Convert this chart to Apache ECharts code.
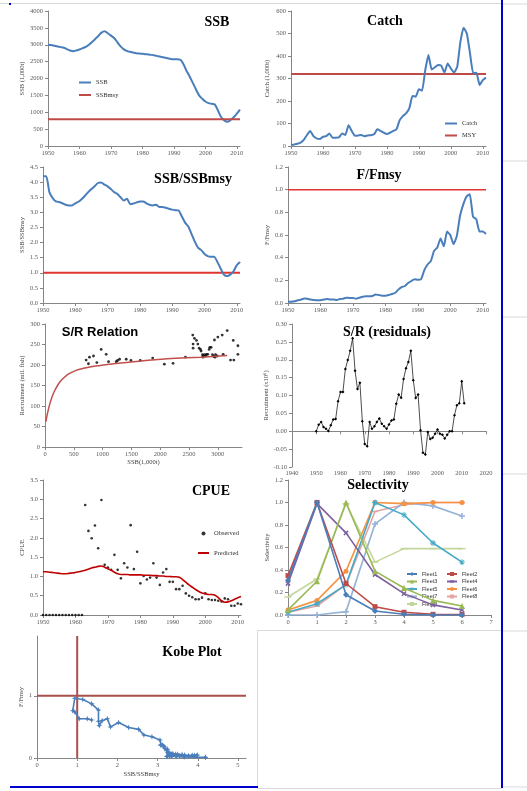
<!DOCTYPE html>
<html><head><meta charset="utf-8">
<script src="https://cdn.jsdelivr.net/npm/echarts@6/dist/echarts.min.js"></script>
<style>html,body{margin:0;padding:0;background:#fff;}#c{width:527px;height:791px;}</style>
</head><body><div id="c"></div>
<script>
const years = [1950,1951,1952,1953,1954,1955,1956,1957,1958,1959,1960,1961,1962,1963,1964,1965,1966,1967,1968,1969,1970,1971,1972,1973,1974,1975,1976,1977,1978,1979,1980,1981,1982,1983,1984,1985,1986,1987,1988,1989,1990,1991,1992,1993,1994,1995,1996,1997,1998,1999,2000,2001,2002,2003,2004,2005,2006,2007,2008,2009,2010,2011];
const ssb = [3000,2990,2970,2950,2930,2910,2870,2830,2810,2830,2860,2900,2940,3000,3080,3170,3260,3360,3400,3340,3270,3200,3080,2960,2870,2820,2790,2770,2750,2740,2730,2720,2710,2700,2680,2660,2640,2620,2600,2580,2570,2570,2560,2430,2230,2060,1870,1680,1500,1400,1320,1270,1250,1230,1050,860,760,720,770,850,960,1080];
const ssbMsy = 790;
const catchVals = [5,7,10,15,27,49,67,44,34,31,41,44,56,37,37,38,56,49,92,67,46,47,49,43,47,48,52,74,67,59,53,59,67,74,115,133,145,167,222,219,252,246,338,404,340,350,360,357,326,367,345,326,352,464,526,500,412,323,326,271,293,304];
const msy = 320;
const ssbRatio = [4.19,4.19,3.66,3.47,3.36,3.34,3.30,3.25,3.23,3.23,3.30,3.35,3.44,3.55,3.67,3.77,3.86,3.97,3.99,3.92,3.86,3.77,3.67,3.61,3.50,3.39,3.45,3.27,3.29,3.33,3.36,3.36,3.30,3.25,3.23,3.25,3.18,3.18,3.15,3.12,3.09,3.07,3.06,2.86,2.66,2.53,2.28,2.03,1.83,1.75,1.62,1.55,1.53,1.53,1.36,1.14,0.94,0.89,0.94,1.05,1.25,1.36];
const fRatio = [0.010,0.012,0.015,0.024,0.030,0.040,0.038,0.030,0.027,0.025,0.025,0.030,0.035,0.030,0.030,0.027,0.035,0.038,0.047,0.044,0.044,0.038,0.047,0.056,0.059,0.059,0.062,0.076,0.070,0.065,0.065,0.070,0.080,0.088,0.118,0.140,0.150,0.176,0.194,0.210,0.205,0.210,0.290,0.340,0.370,0.460,0.490,0.570,0.500,0.630,0.600,0.520,0.590,0.770,0.870,0.940,0.960,0.760,0.740,0.630,0.630,0.610];
const refLevel = 1.0;
const srObserved = [[714,212],[754,203],[772,219],[842,222],[900,206],[975,238],[1062,226],[1103,208],[1236,208],[1259,211],[1294,214],[1410,214],[1492,211],[1654,211],[1869,217],[2072,202],[2223,204],[2438,219],[2565,273],[2571,251],[2571,241],[2594,265],[2629,260],[2653,251],[2676,241],[2699,238],[2710,234],[2734,225],[2745,221],[2768,225],[2803,226],[2826,226],[2850,238],[2861,243],[2884,243],[2908,225],[2931,221],[2942,261],[2960,225],[2989,222],[3001,268],[3076,273],[3093,226],[3163,284],[3221,212],[3268,260],[3279,212],[3349,247],[3349,226],[2740,219],[2790,222],[2950,219]];
const srCurve = [[17,62],[40,80],[87,107],[130,125],[174,139],[230,153],[290,164],[360,173],[435,180],[540,187],[667,192],[800,196],[958,199],[1200,203],[1538,208],[2118,215],[2699,219],[3163,223]];
const srResid = [0.000,0.018,0.026,0.012,0.007,0.001,0.017,0.033,0.034,0.084,0.110,0.110,0.174,0.199,0.225,0.260,0.169,0.118,0.136,0.028,-0.036,-0.042,0.026,0.007,0.014,0.026,0.036,0.021,0.014,0.007,0.019,0.030,0.033,0.077,0.103,0.094,0.146,0.176,0.194,0.225,0.143,0.093,0.103,0.003,-0.060,-0.065,-0.002,-0.022,-0.018,-0.007,0.005,-0.007,-0.010,-0.020,-0.010,0.000,0.000,0.045,0.073,0.078,0.140,0.078];
const cpueObs = [0,0,0,0,0,0,0,0,0,0,0,0,0,2.85,2.18,1.99,2.32,1.73,2.98,1.30,1.23,1.17,1.56,1.17,0.95,1.34,1.23,2.33,1.19,1.64,0.82,1.01,0.92,0.97,1.34,0.97,0.78,1.10,1.19,0.86,0.86,0.67,0.67,0.76,0.56,0.50,0.46,0.41,0.41,0.45,0.56,0.41,0.39,0.39,0.37,0.35,0.43,0.41,0.24,0.24,0.30,0.28];
const cpuePred = [1.12,1.12,1.11,1.10,1.09,1.08,1.07,1.07,1.08,1.09,1.10,1.12,1.14,1.16,1.19,1.22,1.24,1.26,1.27,1.24,1.20,1.16,1.11,1.07,1.05,1.05,1.05,1.04,1.04,1.04,1.04,1.03,1.03,1.03,1.02,1.02,1.01,1.01,1.00,1.00,0.99,0.99,0.98,0.92,0.85,0.78,0.72,0.66,0.61,0.57,0.55,0.53,0.53,0.51,0.45,0.37,0.33,0.34,0.37,0.41,0.45,0.48];
const ages = [0,1,2,3,4,5,6];
const fleetNames = ['Fleet1','Fleet2','Fleet3','Fleet4','Fleet5','Fleet6','Fleet7','Fleet8','Fleet9'];
const fleet1 = [0.31,1.00,0.18,0.035,0.006,0.0,0.0];
const fleet2 = [0.35,1.00,0.28,0.074,0.024,0.006,0.005];
const fleet3 = [0.045,0.30,1.00,0.39,0.24,0.13,0.08];
const fleet4 = [0.28,0.99,0.73,0.36,0.19,0.09,0.045];
const fleet5 = [0.024,0.10,0.27,1.00,0.89,0.64,0.47];
const fleet6 = [0.045,0.13,0.39,1.00,0.99,1.00,1.00];
const fleet7 = [0.0,0.0,0.03,0.81,1.00,0.97,0.88];
const fleet8 = [0.024,0.08,0.27,0.92,0.98,1.00,1.00];
const fleet9 = [0.16,0.32,0.99,0.47,0.59,0.59,0.59];

const fleets = [fleet1,fleet2,fleet3,fleet4,fleet5,fleet6,fleet7,fleet8,fleet9];
const BLUE = '#4A7EBB', RED = '#BE4B48', AX = '#868686', LBL = '#595959';
const SERIF = 'Liberation Serif', SANS = 'Liberation Sans';

const grids = [
  {left:48, top:11, width:192, height:135},
  {left:291, top:11, width:195, height:135},
  {left:43, top:167, width:197, height:136},
  {left:288, top:167, width:198, height:136},
  {left:45, top:324, width:197, height:123},
  {left:292, top:324, width:194, height:143},
  {left:43, top:480, width:198, height:135},
  {left:288, top:480, width:203, height:135},
  {left:37, top:636, width:209, height:122}
].map(g => Object.assign({outerBoundsMode:'none', containLabel:false}, g));

const plain = v => String(v);
const fix1 = v => v.toFixed(1);
const fix2 = v => v.toFixed(2);

function axis(gi, min, max, interval, dir, extra) {
  const a = {
    type:'value', gridIndex:gi, min:min, max:max, interval:interval, scale:true,
    axisLine:{show:true, onZero:false, lineStyle:{color:AX, width:1}},
    axisTick:{show:true, length:3, inside:false, lineStyle:{color:AX}},
    axisLabel:{fontFamily:SERIF, fontSize:6.5, color:LBL, margin:dir==='x'?4:5, hideOverlap:false, formatter:plain},
    splitLine:{show:false},
    nameTextStyle:{fontFamily:SERIF, fontSize:6.5, color:'#404040'}
  };
  return Object.assign(a, extra || {});
}
function lab(extra){ return Object.assign({fontFamily:SERIF, fontSize:6.5, color:LBL, margin:4, hideOverlap:false, formatter:plain}, extra); }
function yname(name, gap){ return {name:name, nameLocation:'middle', nameGap:gap, nameRotate:90}; }

const xAxes = [
  axis(0,1950,2011,10,'x',{axisLabel:lab({showMaxLabel:false})}),
  axis(1,1950,2011,10,'x',{axisLabel:lab({showMaxLabel:false})}),
  axis(2,1950,2011,10,'x',{axisLabel:lab({showMaxLabel:false})}),
  axis(3,1950,2011,10,'x',{axisLabel:lab({showMaxLabel:false})}),
  axis(4,0,3420,500,'x',{axisLabel:lab({showMaxLabel:false}), name:'SSB(1,000t)', nameLocation:'middle', nameGap:11}),
  axis(5,1940,2020,10,'x',{axisLine:{show:true,onZero:true,lineStyle:{color:AX}}, axisLabel:lab({margin:3})}),
  axis(6,1950,2011,10,'x',{axisLabel:lab({showMaxLabel:false})}),
  axis(7,0,7,1,'x',{}),
  axis(8,0,5.2,1,'x',{axisLabel:lab({showMaxLabel:false}), name:'SSB/SSBmsy', nameLocation:'middle', nameGap:13})
];
const yAxes = [
  axis(0,0,4000,500,'y',yname('SSB (1,000t)',21)),
  axis(1,0,600,100,'y',yname('Catch (1,000t)',20)),
  axis(2,0,4.5,0.5,'y',Object.assign(yname('SSB/SSBmsy',16),{axisLabel:lab({formatter:fix1, margin:5})})),
  axis(3,0,1.2,0.2,'y',Object.assign(yname('F/Fmsy',16),{axisLabel:lab({formatter:fix1, margin:5})})),
  axis(4,0,300,50,'y',yname('Recruitment (mil. fish)',19)),
  axis(5,-0.1,0.3,0.05,'y',Object.assign(yname('Recruitment (x10⁶)',21),{axisLabel:lab({formatter:fix2, margin:5})})),
  axis(6,0,3.5,0.5,'y',Object.assign(yname('CPUE',16),{axisLabel:lab({formatter:fix1, margin:5})})),
  axis(7,0,1.2,0.2,'y',Object.assign(yname('Selectivity',16),{axisLabel:lab({formatter:fix1, margin:5})})),
  axis(8,0,1.96,1,'y',Object.assign(yname('F/Fmsy',11),{axisLabel:lab({showMaxLabel:false, margin:5})}))
];

const zipY = arr => years.map((y,i)=>[y, arr[i]]);
const hline = (v, x0, x1) => [[x0, v],[x1, v]];

const plusPath = 'path://M-1,-4H1V-1H4V1H1V4H-1V1H-4V-1H-1Z';
const astPath = 'path://M-0.6,-4H0.6V4H-0.6Z M-4,-0.6H4V0.6H-4Z M-3.2,-2.4L-2.4,-3.2L3.2,2.4L2.4,3.2Z M2.4,-3.2L3.2,-2.4L-2.4,3.2L-3.2,2.4Z';
const starPath = 'path://M0,-5L1.3,-1.3L5,0L1.3,1.3L0,5L-1.3,1.3L-5,0L-1.3,-1.3Z';
const fleetStyle = [
  {c:'#4A7EBB', s:'diamond', z:6},
  {c:'#BE4B48', s:'rect', z:5},
  {c:'#98B954', s:'triangle', z:6},
  {c:'#7D60A0', s:plusPath, z:6, r:45},
  {c:'#46AAC5', s:astPath, z:6},
  {c:'#F69240', s:'circle', z:5},
  {c:'#95B3D7', s:plusPath, z:6},
  {c:'#E6A5A3', s:'rect', z:[6,1.5]},
  {c:'#C3D69B', s:'rect', z:[7,1.5]}
];

const series = [
  {name:'SSB', type:'line', xAxisIndex:0, yAxisIndex:0, data:zipY(ssb), symbol:'none', smooth:0.3, lineStyle:{color:BLUE,width:2}, itemStyle:{color:BLUE}},
  {name:'SSBmsy', type:'line', xAxisIndex:0, yAxisIndex:0, data:hline(ssbMsy,1950,2011), symbol:'none', lineStyle:{color:RED,width:2}, itemStyle:{color:RED}},
  {name:'Catch', type:'line', xAxisIndex:1, yAxisIndex:1, data:zipY(catchVals), symbol:'none', smooth:0.15, lineStyle:{color:BLUE,width:2}, itemStyle:{color:BLUE}},
  {name:'MSY', type:'line', xAxisIndex:1, yAxisIndex:1, data:hline(msy,1950,2011), symbol:'none', lineStyle:{color:RED,width:2}, itemStyle:{color:RED}, z:1},
  {name:'SSB/SSBmsy', type:'line', xAxisIndex:2, yAxisIndex:2, data:zipY(ssbRatio), symbol:'none', smooth:0.2, lineStyle:{color:BLUE,width:2}},
  {name:'ref3', type:'line', xAxisIndex:2, yAxisIndex:2, data:hline(refLevel,1950,2011), symbol:'none', lineStyle:{color:'#E03530',width:2}, z:1},
  {name:'F/Fmsy', type:'line', xAxisIndex:3, yAxisIndex:3, data:zipY(fRatio), symbol:'none', smooth:0.15, lineStyle:{color:BLUE,width:2}},
  {name:'ref4', type:'line', xAxisIndex:3, yAxisIndex:3, data:hline(refLevel,1950,2011), symbol:'none', lineStyle:{color:'#E03530',width:1.5}, z:1},
  {name:'SRcurve', type:'line', xAxisIndex:4, yAxisIndex:4, data:srCurve, symbol:'none', smooth:0.4, lineStyle:{color:'#C0504D',width:1.5}},
  {name:'SRobs', type:'scatter', xAxisIndex:4, yAxisIndex:4, data:srObserved, symbol:'circle', symbolSize:2.8, itemStyle:{color:'#000'}},
  {name:'Resid', type:'line', xAxisIndex:5, yAxisIndex:5, data:zipY(srResid), symbol:'diamond', symbolSize:3, showAllSymbol:true, lineStyle:{color:'#000',width:0.7}, itemStyle:{color:'#000'}},
  {name:'Predicted', type:'line', xAxisIndex:6, yAxisIndex:6, data:zipY(cpuePred), symbol:'none', smooth:0.3, lineStyle:{color:'#C00000',width:1.6}, itemStyle:{color:'#C00000'}},
  {name:'Observed', type:'scatter', xAxisIndex:6, yAxisIndex:6, data:zipY(cpueObs), symbol:'circle', symbolSize:2.6, itemStyle:{color:'#000'}}
];
fleets.forEach((f,i) => {
  const st = fleetStyle[i];
  series.push({name:fleetNames[i], type:'line', xAxisIndex:7, yAxisIndex:7, data:ages.map((a,j)=>[a,f[j]]),
    symbol:st.s, symbolSize:st.z, symbolRotate:st.r||0, showAllSymbol:true,
    lineStyle:{color:st.c,width:1.6}, itemStyle:{color:st.c}, z:2+ (9-i)});
});
series.push(
  {name:'kobeV', type:'line', xAxisIndex:8, yAxisIndex:8, data:[[refLevel,0],[refLevel,1.96]], symbol:'none', lineStyle:{color:'#A9504C',width:2}, z:1},
  {name:'kobeH', type:'line', xAxisIndex:8, yAxisIndex:8, data:hline(refLevel,0,5.2), symbol:'none', lineStyle:{color:'#A9504C',width:2}, z:1},
  {name:'Kobe', type:'line', xAxisIndex:8, yAxisIndex:8, data:years.map((y,i)=>[ssbRatio[i], fRatio[i]]), symbol:starPath, symbolSize:6, showAllSymbol:true, lineStyle:{color:BLUE,width:1.6}, itemStyle:{color:BLUE}, z:3}
);

const legText = (f, s) => ({fontFamily:f, fontSize:s, color:'#303030', lineHeight:s});
const lineOnly = n => ({name:n, itemStyle:{opacity:0, color:'rgba(0,0,0,0)', borderColor:'rgba(0,0,0,0)', borderWidth:0}});
const legends = [
  {data:[lineOnly('SSB'),lineOnly('SSBmsy')], left:73, top:74, orient:'vertical', itemWidth:12, itemHeight:5, itemGap:5.5, textStyle:legText(SERIF,6.5), selectedMode:false},
  {data:[lineOnly('Catch'),lineOnly('MSY')], left:439, top:115, orient:'vertical', itemWidth:12, itemHeight:5, itemGap:5, textStyle:legText(SERIF,6.5), selectedMode:false},
  {data:[{name:'Observed', icon:'circle', itemStyle:{color:'#000'}}, lineOnly('Predicted')], left:192, top:525, orient:'vertical', itemWidth:11, itemHeight:4, itemGap:12.5, textStyle:legText(SERIF,6.5), selectedMode:false},
  {data:['Fleet1','Fleet3','Fleet5','Fleet7','Fleet9'], left:401, top:566, orient:'vertical', itemWidth:10, itemHeight:5, itemGap:1.5, textStyle:legText(SANS,5.5), selectedMode:false},
  {data:['Fleet2','Fleet4','Fleet6','Fleet8'], left:441, top:566, orient:'vertical', itemWidth:10, itemHeight:5, itemGap:1.5, textStyle:legText(SANS,5.5), selectedMode:false}
];

const title = (t, x, y, fam, size) => ({type:'text', x:x, y:y, style:{text:t, font:'bold '+(size||14)+'px "'+(fam||SERIF)+'"', fill:'#000', align:'center', verticalAlign:'middle'}, z:10});
const ln = (x1,y1,x2,y2,c,w) => ({type:'line', shape:{x1,y1,x2,y2}, style:{stroke:c, lineWidth:w}, silent:true, z:0});
const graphics = [
  title('SSB', 217, 22),
  title('Catch', 385, 21),
  title('SSB/SSBmsy', 193, 179),
  title('F/Fmsy', 379, 175),
  title('S/R Relation', 100, 332, SANS, 13),
  title('S/R (residuals)', 387, 332),
  title('CPUE', 211, 491),
  title('Selectivity', 378, 485),
  title('Kobe Plot', 192, 652),
  ln(0,3.5,502,3.5,'#D9D9D9',1),
  ln(503,4,527,4,'#D9D9D9',1),
  ln(503,161,527,161,'#D9D9D9',1),
  ln(503,317,527,317,'#D9D9D9',1),
  ln(503,474,527,474,'#D9D9D9',1),
  ln(503,631,527,631,'#D9D9D9',1),
  ln(503,787,527,787,'#D9D9D9',1),
  {type:'rect', shape:{x:257.5, y:630.5, width:244, height:158}, style:{fill:'none', stroke:'#D9D9D9', lineWidth:1}, silent:true},
  ln(502,0,502,788,'#0000CC',2),
  ln(10,787,258,787,'#0000CC',2),
  {type:'rect', shape:{x:9, y:3, width:2, height:2}, style:{fill:'#0000CC'}, silent:true}
];

const chart = echarts.init(document.getElementById('c'), null, {renderer:'canvas'});
chart.setOption({
  animation:false,
  backgroundColor:'#fff',
  grid:grids, xAxis:xAxes, yAxis:yAxes, series:series, legend:legends, graphic:graphics
});
</script></body></html>
